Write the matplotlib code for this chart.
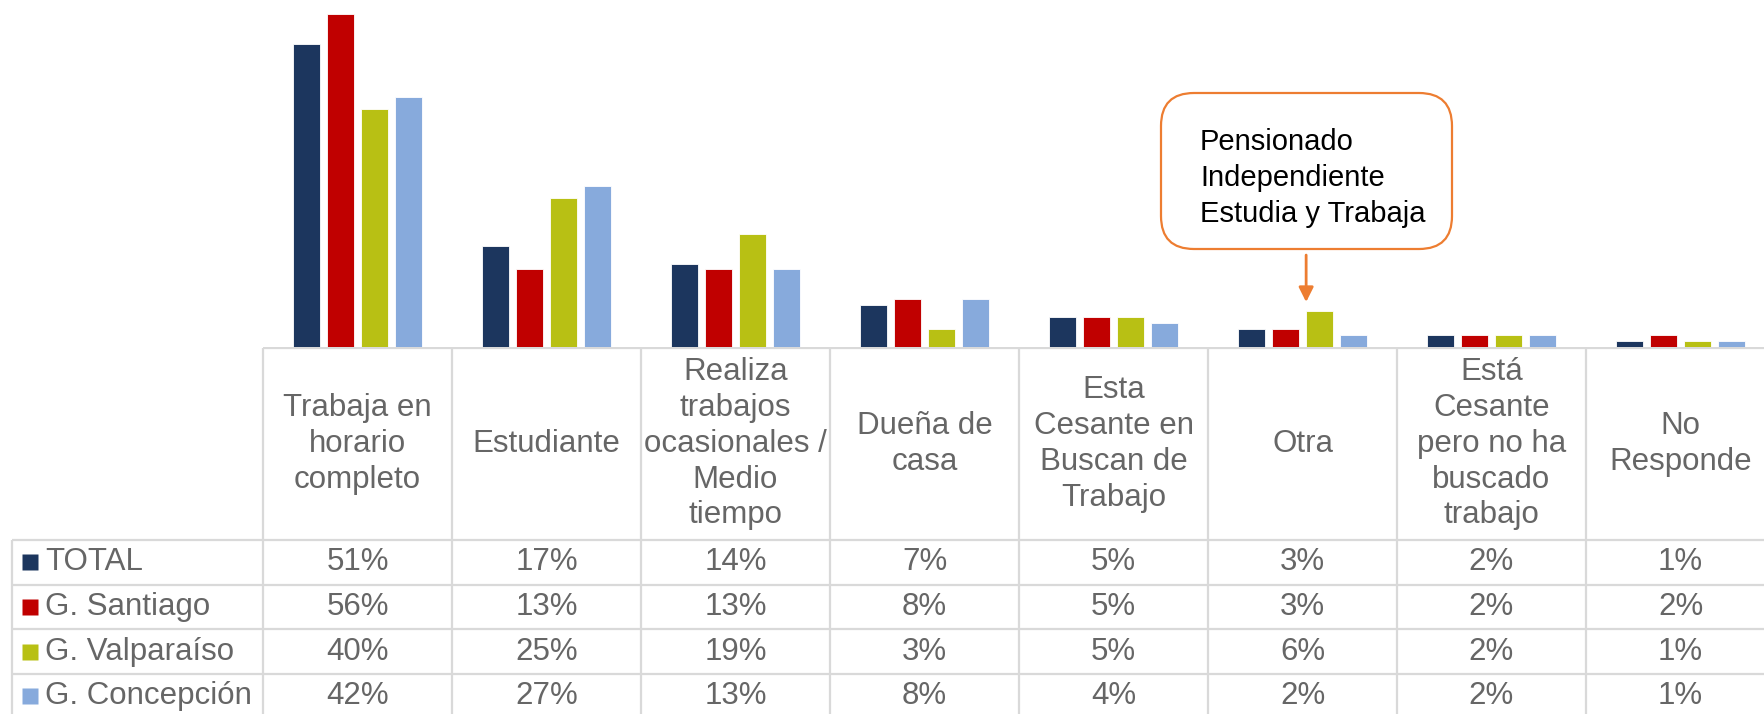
import matplotlib
matplotlib.use("Agg")
import matplotlib.pyplot as plt
from matplotlib.patches import FancyBboxPatch
import numpy as np

plt.rcParams['font.family'] = ['Liberation Sans', 'DejaVu Sans']

categories = ["Trabaja en\nhorario\ncompleto", "Estudiante",
              "Realiza\ntrabajos\nocasionales /\nMedio\ntiempo",
              "Dueña de\ncasa", "Esta\nCesante en\nBuscan de\nTrabajo", "Otra",
              "Está\nCesante\npero no ha\nbuscado\ntrabajo", "No\nResponde"]
series = ["TOTAL", "G. Santiago", "G. Valparaíso", "G. Concepción"]
total = [51, 17, 14, 7, 5, 3, 2, 1]
santiago = [56, 13, 13, 8, 5, 3, 2, 2]
valparaiso = [40, 25, 19, 3, 5, 6, 2, 1]
concepcion = [42, 27, 13, 8, 4, 2, 2, 1]
colors = ["#1C365E", "#C00000", "#B8C014", "#87AADC"]
note_lines = ["Pensionado", "Independiente", "Estudia y Trabaja"]

values = [total, santiago, valparaiso, concepcion]
ncat = len(categories)
x = np.arange(ncat)

W, H = 1764, 714
fig = plt.figure(figsize=(W / 100, H / 100), dpi=100)
fig.patch.set_facecolor("white")

# layout in pixels
col0 = 263.0       # left edge of first category column
colw = 189.0       # column width
base = 346.7       # bar baseline
pxper = 5.94       # pixels per percent
xl = (0 - col0) / colw - 0.5
xr = (W - col0) / colw - 0.5

# bars
ax = fig.add_axes([0, (H - base) / H, 1, base / H])
ax.set_xlim(xl, xr)
ax.set_ylim(0, base / pxper)
ax.axis("off")
step, bw = 0.1815, 0.143
for k, (vals, c) in enumerate(zip(values, colors)):
    ax.bar(x + (k - 1.5) * step, vals, width=bw, color=c,
           edgecolor="white", linewidth=0.6)

# arrow pointing at the Valparaíso "Otra" bar
i_otra = 5
ax_x = i_otra + 0.5 * step - bw / 2
ax.annotate("", xy=(ax_x, valparaiso[i_otra] + 9 / pxper),
            xytext=(ax_x, valparaiso[i_otra] + 56 / pxper),
            arrowprops=dict(arrowstyle="-|>", color="#ED7D31", lw=2,
                            mutation_scale=22, shrinkA=0, shrinkB=0))

# table
tb = fig.add_axes([0, 0, 1, (H - base) / H])
tb.set_xlim(xl, xr)
tb.set_ylim(H - base, 0)
tb.axis("off")
grid = dict(color="#D9D9D9", lw=1.6, solid_capstyle="butt")
txt = "#666666"
top, head_bot, rowh = 1.3, 193.3, 44.7
leg_left = (11.7 - col0) / colw - 0.5
row_y = [head_bot + r * rowh for r in range(len(series) + 1)]

tb.plot([x[0] - 0.5, xr], [top, top], **grid)
for yy in row_y:
    tb.plot([leg_left, xr], [yy, yy], **grid)
for i in range(ncat + 1):
    tb.plot([i - 0.5, i - 0.5], [top, H], **grid)
tb.plot([leg_left, leg_left], [head_bot, H], **grid)

for i, cat in enumerate(categories):
    tb.text(i, (top + head_bot) / 2, cat, ha="center", va="center",
            fontsize=22.5, color=txt, linespacing=1.25)

for r, (name, vals, c) in enumerate(zip(series, values, colors)):
    yc = head_bot + (r + 0.5) * rowh
    tb.plot([(30 - col0) / colw - 0.5], [yc], marker="s", ms=11.5,
            color=c, mec="none")
    tb.text((45 - col0) / colw - 0.5, yc, name, ha="left", va="center",
            fontsize=22.5, color=txt)
    for i, v in enumerate(vals):
        tb.text(i, yc, f"{v}%", ha="center", va="center",
                fontsize=22.5, color=txt)

# callout box
note = fig.add_axes([0, 0, 1, 1], zorder=5)
note.set_xlim(0, W)
note.set_ylim(H, 0)
note.axis("off")
note.patch.set_alpha(0)
note.add_patch(FancyBboxPatch((1161, 93), 291, 156,
                              boxstyle="round,pad=0,rounding_size=33",
                              fc="white", ec="#ED7D31", lw=1.6))
note.text(1200, 128, "\n".join(note_lines), ha="left", va="top",
          fontsize=21, color="black", linespacing=1.36)

fig.savefig("out.png", dpi=100)
